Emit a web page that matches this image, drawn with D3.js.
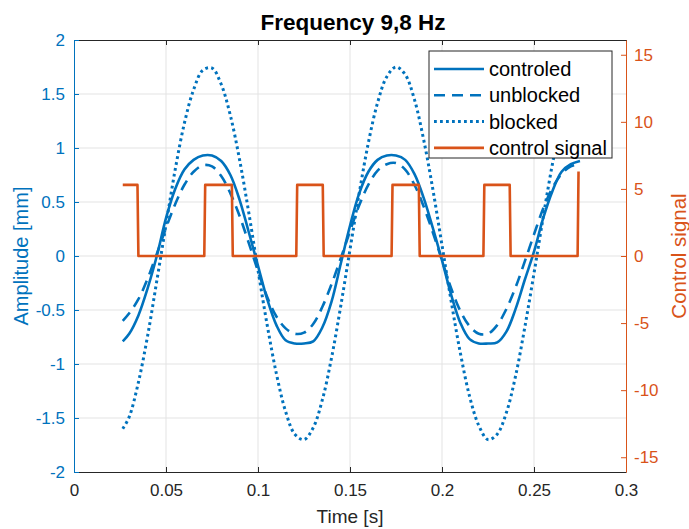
<!DOCTYPE html>
<html>
<head>
<meta charset="utf-8">
<script src="https://cdn.jsdelivr.net/npm/d3@7"></script>
<style>
  body { margin: 0; background: #fff; }
  svg { display: block; font-family: "Liberation Sans", Arial, Helvetica, sans-serif; }
</style>
</head>
<body>
<div id="grafiek"></div>
<script>
// tijdas (s) voor de drie amplitude-curves
const tijd = [0.0265, 0.030, 0.035, 0.040, 0.045, 0.050, 0.055, 0.060, 0.065, 0.070,
  0.075, 0.080, 0.085, 0.090, 0.095, 0.100, 0.105, 0.110, 0.115, 0.120,
  0.125, 0.130, 0.135, 0.140, 0.145, 0.150, 0.155, 0.160, 0.165, 0.170,
  0.175, 0.180, 0.185, 0.190, 0.195, 0.200, 0.205, 0.210, 0.215, 0.220,
  0.225, 0.230, 0.235, 0.240, 0.245, 0.250, 0.255, 0.260, 0.265, 0.270, 0.275];

const controled = [-0.79, -0.72, -0.55, -0.30, 0.00, 0.35, 0.62, 0.80, 0.89, 0.93,
  0.93, 0.88, 0.75, 0.52, 0.22, -0.09, -0.40, -0.64, -0.78, -0.81,
  -0.81, -0.79, -0.66, -0.42, -0.07, 0.28, 0.58, 0.78, 0.89, 0.93,
  0.93, 0.89, 0.76, 0.54, 0.26, -0.04, -0.36, -0.62, -0.77, -0.81,
  -0.81, -0.80, -0.70, -0.49, -0.22, 0.04, 0.35, 0.60, 0.78, 0.85, 0.88];

const unblocked = [-0.60, -0.53, -0.40, -0.21, 0.02, 0.26, 0.48, 0.66, 0.78, 0.84,
  0.83, 0.74, 0.58, 0.37, 0.12, -0.14, -0.38, -0.56, -0.67, -0.72,
  -0.71, -0.63, -0.47, -0.26, -0.02, 0.23, 0.47, 0.66, 0.79, 0.85,
  0.86, 0.80, 0.66, 0.46, 0.22, -0.04, -0.30, -0.51, -0.65, -0.72,
  -0.72, -0.64, -0.49, -0.29, -0.05, 0.20, 0.44, 0.63, 0.76, 0.83, 0.85];

const blocked = [-1.60, -1.49, -1.17, -0.74, -0.23, 0.29, 0.80, 1.23, 1.54, 1.72,
  1.74, 1.59, 1.30, 0.89, 0.40, -0.13, -0.64, -1.09, -1.44, -1.65,
  -1.70, -1.59, -1.33, -0.94, -0.46, 0.06, 0.58, 1.05, 1.42, 1.66,
  1.75, 1.68, 1.45, 1.08, 0.62, 0.10, -0.42, -0.90, -1.30, -1.57,
  -1.70, -1.65, -1.45, -1.11, -0.66, -0.16, 0.36, 0.85, 1.26, 1.58, 1.73];

// stuursignaal (rechter as)
const stuurTijd = [0.0265, 0.0345, 0.0350, 0.0708, 0.0713, 0.0858, 0.0863, 0.1208, 0.1213, 0.1352,
  0.1357, 0.1726, 0.1731, 0.1874, 0.1879, 0.2225, 0.2230, 0.2368, 0.2373, 0.2737, 0.2742];
const stuurWaarde = [5.3, 5.3, 0, 0, 5.3, 5.3, 0, 0, 5.3, 5.3,
  0, 0, 5.3, 5.3, 0, 0, 5.3, 5.3, 0, 0, 6.3];

// ticks
const xTicks = [0, 0.05, 0.1, 0.15, 0.2, 0.25, 0.3];
const xTickLabels = ["0", "0.05", "0.1", "0.15", "0.2", "0.25", "0.3"];
const yLinksTicks = [-2, -1.5, -1, -0.5, 0, 0.5, 1, 1.5, 2];
const yLinksLabels = ["-2", "-1.5", "-1", "-0.5", "0", "0.5", "1", "1.5", "2"];
const yRechtsTicks = [-15, -10, -5, 0, 5, 10, 15];
const yRechtsLabels = ["-15", "-10", "-5", "0", "5", "10", "15"];

const legendaNamen = ["controled", "unblocked", "blocked", "control signal"];

const blauw = "#0072bd";
const oranje = "#d95319";
const donker = "#262626";

const width = 689, height = 529;
const margin = { top: 40, bottom: 57, left: 74, right: 63 };

const svg = d3.select("#grafiek").append("svg")
  .attr("width", width)
  .attr("height", height);

// schalen
const x = d3.scaleLinear().domain([0, 0.3]).range([margin.left, width - margin.right]);
const yL = d3.scaleLinear().domain([-2, 2]).range([height - margin.bottom, margin.top]);
const yR = d3.scaleLinear().domain([-16.1, 16.1]).range([height - margin.bottom, margin.top]);

// grid
const grid = svg.append("g").attr("stroke", "#e3e3e3").attr("stroke-width", 1);
grid.selectAll(".gx").data(xTicks.slice(1, -1)).join("line")
  .attr("x1", d => x(d)).attr("x2", d => x(d))
  .attr("y1", yL(2)).attr("y2", yL(-2));
grid.selectAll(".gy").data(yLinksTicks.slice(1, -1)).join("line")
  .attr("x1", x(0)).attr("x2", x(0.3))
  .attr("y1", d => yL(d)).attr("y2", d => yL(d));

// curves
const lijn = (waarden) => d3.line()
  .x((d, i) => x(tijd[i]))
  .y(d => yL(d))
  .curve(d3.curveCatmullRom)(waarden);

const series = [
  { naam: "controled", data: controled, dash: null, breedte: 2.6 },
  { naam: "unblocked", data: unblocked, dash: "11,7", breedte: 2.6 },
  { naam: "blocked", data: blocked, dash: "2.8,3.2", breedte: 3 }
];

svg.append("g").selectAll("path").data(series).join("path")
  .attr("d", d => lijn(d.data))
  .attr("fill", "none")
  .attr("stroke", blauw)
  .attr("stroke-width", d => d.breedte)
  .attr("stroke-dasharray", d => d.dash);

const stuurLijn = d3.line()
  .x((d, i) => x(stuurTijd[i]))
  .y(d => yR(d));

svg.append("path")
  .attr("d", stuurLijn(stuurWaarde))
  .attr("fill", "none")
  .attr("stroke", oranje)
  .attr("stroke-width", 2.6)
  .attr("stroke-linejoin", "round");

// assen
const fmt = (ticks, labels) => d => labels[ticks.indexOf(d)];

const gX = svg.append("g")
  .attr("transform", `translate(0,${yL(-2)})`)
  .call(d3.axisBottom(x).tickValues(xTicks).tickFormat(fmt(xTicks, xTickLabels))
    .tickSizeInner(-5).tickSizeOuter(0).tickPadding(12));
gX.selectAll("text").attr("font-size", 17).attr("fill", donker);

const gTop = svg.append("g")
  .attr("transform", `translate(0,${yL(2)})`)
  .call(d3.axisTop(x).tickValues(xTicks).tickFormat("").tickSizeInner(-5).tickSizeOuter(0));

[gX, gTop].forEach(g => {
  g.select(".domain").attr("stroke", donker);
  g.selectAll(".tick line").attr("stroke", donker);
});

const gL = svg.append("g")
  .attr("transform", `translate(${x(0)},0)`)
  .call(d3.axisLeft(yL).tickValues(yLinksTicks).tickFormat(fmt(yLinksTicks, yLinksLabels))
    .tickSizeInner(-5).tickSizeOuter(0).tickPadding(9));
gL.select(".domain").attr("stroke", blauw);
gL.selectAll(".tick line").attr("stroke", blauw);
gL.selectAll("text").attr("font-size", 17).attr("fill", blauw);

const gR = svg.append("g")
  .attr("transform", `translate(${x(0.3)},0)`)
  .call(d3.axisRight(yR).tickValues(yRechtsTicks).tickFormat(fmt(yRechtsTicks, yRechtsLabels))
    .tickSizeInner(-5).tickSizeOuter(0).tickPadding(8));
gR.select(".domain").attr("stroke", oranje);
gR.selectAll(".tick line").attr("stroke", oranje);
gR.selectAll("text").attr("font-size", 17).attr("fill", oranje);

// titels
svg.append("text")
  .attr("x", (x(0) + x(0.3)) / 2 + 3).attr("y", 30)
  .attr("text-anchor", "middle")
  .attr("font-size", 22.5).attr("font-weight", "bold").attr("fill", "#000")
  .text("Frequency 9,8 Hz");

svg.append("text")
  .attr("x", (x(0) + x(0.3)) / 2).attr("y", 523)
  .attr("text-anchor", "middle")
  .attr("font-size", 19).attr("fill", donker)
  .text("Time [s]");

svg.append("text")
  .attr("transform", `translate(28,${yL(0)}) rotate(-90)`)
  .attr("text-anchor", "middle")
  .attr("font-size", 20).attr("fill", blauw)
  .text("Amplitude [mm]");

svg.append("text")
  .attr("transform", `translate(686,${yL(0)}) rotate(-90)`)
  .attr("text-anchor", "middle")
  .attr("font-size", 20.5).attr("fill", oranje)
  .text("Control signal");

// legenda
const leg = svg.append("g").attr("transform", "translate(429,51)");
leg.append("rect")
  .attr("width", 183).attr("height", 107)
  .attr("fill", "#fff").attr("stroke", donker).attr("stroke-width", 1);

const legItems = [
  { kleur: blauw, dash: null, breedte: 2.6 },
  { kleur: blauw, dash: "11,7", breedte: 2.6 },
  { kleur: blauw, dash: "2.8,3.2", breedte: 3 },
  { kleur: oranje, dash: null, breedte: 2.6 }
];

const rij = leg.selectAll(".rij").data(legendaNamen).join("g")
  .attr("transform", (d, i) => `translate(0,${18 + i * 26.3})`);
rij.append("line")
  .attr("x1", 5).attr("x2", 55)
  .attr("stroke", (d, i) => legItems[i].kleur)
  .attr("stroke-width", (d, i) => legItems[i].breedte)
  .attr("stroke-dasharray", (d, i) => legItems[i].dash);
rij.append("text")
  .attr("x", 60).attr("dy", "0.35em")
  .attr("font-size", 20).attr("fill", "#000")
  .text(d => d);
</script>
</body>
</html>
